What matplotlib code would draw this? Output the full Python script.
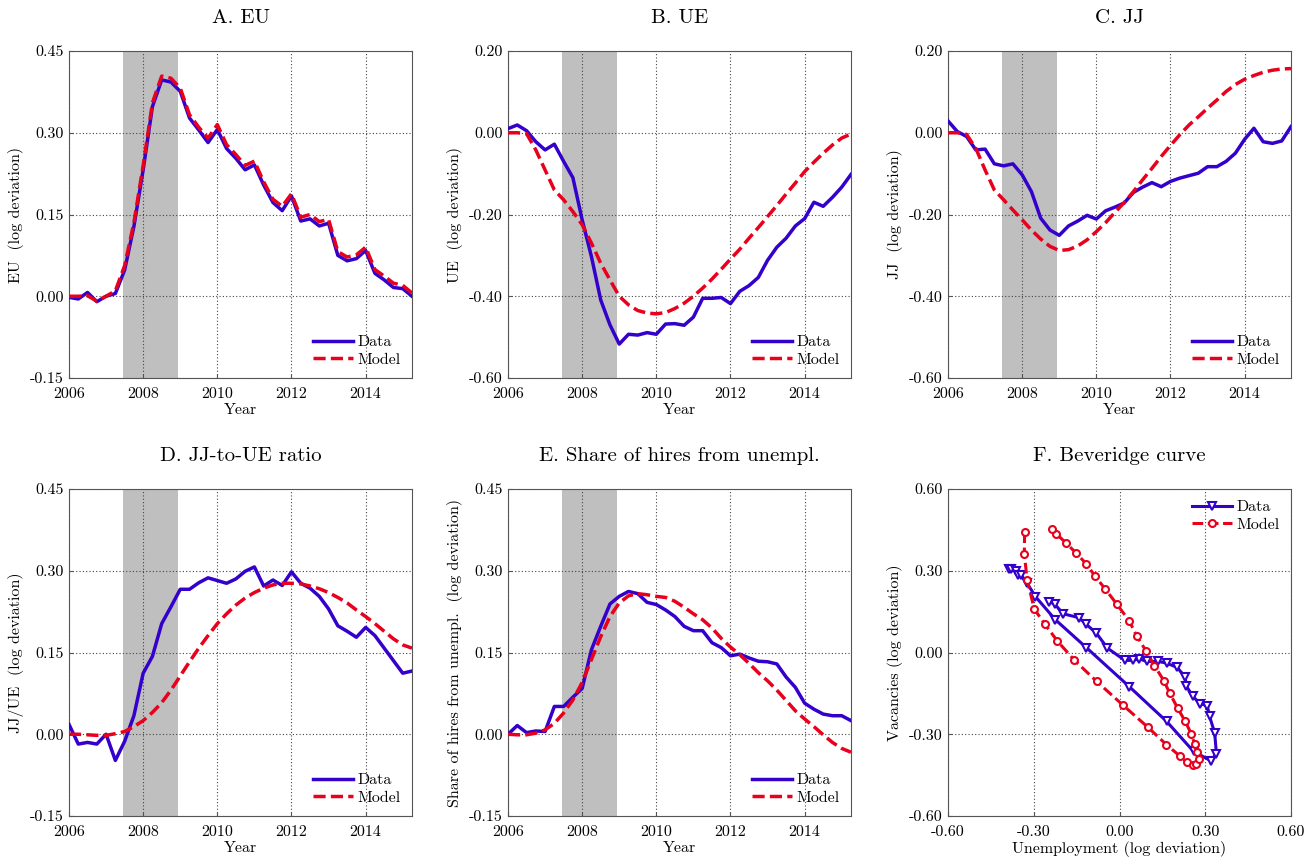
import numpy as np
import matplotlib
matplotlib.use("Agg")
import matplotlib.pyplot as plt
from matplotlib.ticker import FormatStrFormatter

plt.rcParams['font.family'] = ['cmr10', 'DejaVu Serif']
plt.rcParams['axes.unicode_minus'] = False
plt.rcParams['mathtext.fontset'] = 'cm'

# quarterly, 2006Q1 .. 2015Q2
years = 2006 + 0.25 * np.arange(38)

eu_data = [-0.002, -0.005, 0.007, -0.010, 0.000, 0.005, 0.048, 0.128, 0.232, 0.348,
           0.397, 0.393, 0.376, 0.327, 0.305, 0.282, 0.306, 0.271, 0.253, 0.232,
           0.241, 0.204, 0.172, 0.157, 0.184, 0.138, 0.142, 0.129, 0.134, 0.075,
           0.065, 0.069, 0.084, 0.042, 0.030, 0.016, 0.014, 0.000]
eu_model = [0.000, 0.000, 0.001, -0.009, 0.000, 0.010, 0.056, 0.135, 0.240, 0.355,
            0.404, 0.400, 0.382, 0.333, 0.310, 0.290, 0.315, 0.278, 0.260, 0.240,
            0.248, 0.210, 0.178, 0.165, 0.188, 0.145, 0.150, 0.137, 0.141, 0.082,
            0.072, 0.076, 0.090, 0.049, 0.037, 0.024, 0.020, 0.006]

ue_data = [0.010, 0.019, 0.005, -0.022, -0.042, -0.028, -0.070, -0.110, -0.213, -0.303,
           -0.409, -0.470, -0.517, -0.493, -0.495, -0.489, -0.493, -0.468, -0.467, -0.471,
           -0.451, -0.405, -0.405, -0.403, -0.418, -0.388, -0.374, -0.354, -0.312, -0.280,
           -0.258, -0.228, -0.210, -0.170, -0.180, -0.158, -0.133, -0.102]
ue_model = [0.000, 0.000, -0.002, -0.042, -0.091, -0.140, -0.164, -0.193, -0.225, -0.270,
            -0.319, -0.360, -0.400, -0.421, -0.435, -0.441, -0.443, -0.440, -0.430, -0.417,
            -0.400, -0.380, -0.358, -0.334, -0.309, -0.285, -0.258, -0.232, -0.205, -0.178,
            -0.150, -0.123, -0.095, -0.072, -0.050, -0.030, -0.013, -0.003]

jj_data = [0.029, 0.003, -0.009, -0.042, -0.040, -0.076, -0.081, -0.076, -0.103, -0.144,
           -0.209, -0.238, -0.251, -0.228, -0.216, -0.202, -0.211, -0.191, -0.182, -0.172,
           -0.146, -0.133, -0.122, -0.132, -0.119, -0.111, -0.105, -0.099, -0.083, -0.083,
           -0.070, -0.050, -0.016, 0.011, -0.022, -0.026, -0.020, 0.015]
jj_model = [0.000, 0.000, -0.004, -0.038, -0.091, -0.140, -0.164, -0.189, -0.213, -0.238,
            -0.260, -0.278, -0.288, -0.286, -0.277, -0.262, -0.242, -0.220, -0.195, -0.171,
            -0.144, -0.115, -0.087, -0.058, -0.031, -0.005, 0.019, 0.039, 0.060, 0.080,
            0.101, 0.118, 0.131, 0.140, 0.148, 0.153, 0.156, 0.157]

ratio_data = [0.018, -0.018, -0.015, -0.018, 0.000, -0.048, -0.013, 0.034, 0.112, 0.143,
              0.203, 0.234, 0.266, 0.266, 0.278, 0.287, 0.282, 0.277, 0.285, 0.299,
              0.307, 0.272, 0.283, 0.273, 0.298, 0.277, 0.268, 0.253, 0.230, 0.199,
              0.189, 0.178, 0.196, 0.181, 0.158, 0.135, 0.112, 0.116]
ratio_model = [0.000, 0.000, -0.001, -0.002, -0.002, 0.001, 0.005, 0.014, 0.025, 0.040,
               0.058, 0.081, 0.107, 0.133, 0.158, 0.181, 0.203, 0.221, 0.237, 0.250,
               0.260, 0.268, 0.274, 0.277, 0.277, 0.276, 0.272, 0.267, 0.260, 0.251,
               0.241, 0.228, 0.216, 0.203, 0.189, 0.175, 0.164, 0.158]

share_data = [0.000, 0.016, 0.003, 0.006, 0.005, 0.051, 0.051, 0.068, 0.084, 0.155,
              0.198, 0.239, 0.253, 0.262, 0.258, 0.242, 0.238, 0.228, 0.216, 0.198,
              0.190, 0.190, 0.168, 0.159, 0.144, 0.147, 0.140, 0.134, 0.133, 0.129,
              0.105, 0.086, 0.057, 0.046, 0.037, 0.034, 0.034, 0.025]
share_model = [0.000, -0.001, -0.001, 0.002, 0.008, 0.020, 0.039, 0.063, 0.095, 0.137,
               0.179, 0.216, 0.241, 0.254, 0.258, 0.256, 0.253, 0.251, 0.244, 0.233,
               0.221, 0.210, 0.195, 0.176, 0.160, 0.146, 0.130, 0.113, 0.098, 0.081,
               0.062, 0.043, 0.028, 0.014, -0.001, -0.015, -0.026, -0.033]

# Beveridge curve (unemployment, vacancies)
bev_u_data = [-0.388, -0.379, -0.361, -0.355, -0.345, -0.323, -0.294, -0.224, -0.116, 0.034,
              0.165, 0.259, 0.319, 0.339, 0.333, 0.315, 0.307, 0.282, 0.257, 0.233,
              0.230, 0.202, 0.165, 0.136, 0.095, 0.069, 0.048, 0.019, -0.042, -0.081,
              -0.118, -0.142, -0.197, -0.227, -0.247]
bev_v_data = [0.305, 0.308, 0.300, 0.285, 0.286, 0.254, 0.205, 0.120, 0.018, -0.125,
              -0.253, -0.363, -0.397, -0.371, -0.295, -0.234, -0.195, -0.188, -0.161, -0.122,
              -0.090, -0.055, -0.039, -0.033, -0.033, -0.023, -0.029, -0.029, 0.016, 0.071,
              0.105, 0.128, 0.142, 0.178, 0.187]
bev_u_model = [-0.332, -0.333, -0.323, -0.298, -0.261, -0.218, -0.159, -0.080, 0.013, 0.098,
               0.164, 0.210, 0.237, 0.257, 0.268, 0.277, 0.272, 0.263, 0.251, 0.230,
               0.204, 0.176, 0.155, 0.122, 0.094, 0.061, 0.034, -0.009, -0.050, -0.086,
               -0.116, -0.151, -0.188, -0.221, -0.237]
bev_v_model = [0.441, 0.361, 0.266, 0.159, 0.104, 0.043, -0.027, -0.106, -0.194, -0.273,
               -0.338, -0.379, -0.403, -0.414, -0.411, -0.391, -0.366, -0.336, -0.298, -0.253,
               -0.205, -0.150, -0.103, -0.048, 0.004, 0.059, 0.116, 0.177, 0.233, 0.281,
               0.325, 0.364, 0.403, 0.435, 0.452]

recession = (2007.45, 2008.95)

BLUE = '#3300cc'
RED = '#e8001c'

W, H = 1314, 863
fig = plt.figure(figsize=(W / 100, H / 100), dpi=100)

col_left = [69, 508, 948]
row_bottom = [378, 816]
aw, ah = 343, 327


def make_ax(r, c):
    return fig.add_axes([col_left[c] / W, 1 - row_bottom[r] / H, aw / W, ah / H])


def style(ax):
    ax.grid(True, linestyle=(0, (1, 2)), color='#444444', linewidth=0.8)
    ax.set_axisbelow(True)
    for s in ax.spines.values():
        s.set_color('#555555')
        s.set_linewidth(0.8)
    ax.tick_params(direction='in', length=3, labelsize=11.5, color='#555555', pad=4)
    ax.tick_params(axis='x', pad=7)
    ax.yaxis.set_major_formatter(FormatStrFormatter('%.2f'))


def time_panel(ax, data, model, ylim, yticks, title, ylabel):
    ax.axvspan(*recession, color='#bfbfbf', lw=0, zorder=0.5)
    ax.plot(years, data, color=BLUE, lw=2.5, label='Data', zorder=3)
    ax.plot(years, model, color=RED, lw=2.5, ls=(0, (3.5, 1.5)), label='Model', zorder=3)
    ax.set_xlim(2006, 2015.25)
    ax.set_ylim(*ylim)
    ax.set_xticks([2006, 2008, 2010, 2012, 2014])
    ax.set_yticks(yticks)
    style(ax)
    ax.set_title(title, fontsize=15, pad=20)
    ax.set_xlabel('Year', fontsize=11.5, labelpad=1)
    ax.set_ylabel(ylabel, fontsize=11.5, labelpad=4)
    ax.legend(loc='lower right', frameon=False, fontsize=11.5, handlelength=2.5,
              handletextpad=0.3, borderaxespad=0.3, labelspacing=0.2)


ax = make_ax(0, 0)
time_panel(ax, eu_data, eu_model, (-0.15, 0.45), [-0.15, 0, 0.15, 0.30, 0.45],
           'A. EU', 'EU  (log deviation)')
ax = make_ax(0, 1)
time_panel(ax, ue_data, ue_model, (-0.6, 0.2), [-0.6, -0.4, -0.2, 0, 0.2],
           'B. UE', 'UE  (log deviation)')
ax = make_ax(0, 2)
time_panel(ax, jj_data, jj_model, (-0.6, 0.2), [-0.6, -0.4, -0.2, 0, 0.2],
           'C. JJ', 'JJ  (log deviation)')
ax = make_ax(1, 0)
time_panel(ax, ratio_data, ratio_model, (-0.15, 0.45), [-0.15, 0, 0.15, 0.30, 0.45],
           'D. JJ-to-UE ratio', 'JJ/UE  (log deviation)')
ax = make_ax(1, 1)
time_panel(ax, share_data, share_model, (-0.15, 0.45), [-0.15, 0, 0.15, 0.30, 0.45],
           'E. Share of hires from unempl.', 'Share of hires from unempl.  (log deviation)')

ax = make_ax(1, 2)
ax.plot(bev_u_data, bev_v_data, color=BLUE, lw=2.2, marker='v', ms=6,
        mfc='white', mec=BLUE, mew=1.5, label='Data', zorder=3)
ax.plot(bev_u_model, bev_v_model, color=RED, lw=2.2, ls=(0, (3.5, 1.5)), marker='o', ms=5,
        mfc='white', mec=RED, mew=1.5, label='Model', zorder=3)
ax.set_xlim(-0.6, 0.6)
ax.set_ylim(-0.6, 0.6)
ax.set_xticks([-0.6, -0.3, 0, 0.3, 0.6])
ax.set_yticks([-0.6, -0.3, 0, 0.3, 0.6])
style(ax)
ax.xaxis.set_major_formatter(FormatStrFormatter('%.2f'))
ax.set_title('F. Beveridge curve', fontsize=15, pad=20)
ax.set_xlabel('Unemployment (log deviation)', fontsize=11.5, labelpad=1)
ax.set_ylabel('Vacancies (log deviation)', fontsize=11.5, labelpad=4)
ax.legend(loc='upper right', frameon=False, fontsize=11.5, handlelength=2.5,
          handletextpad=0.3, borderaxespad=0.3, labelspacing=0.2)

fig.savefig('out.png', dpi=100)
